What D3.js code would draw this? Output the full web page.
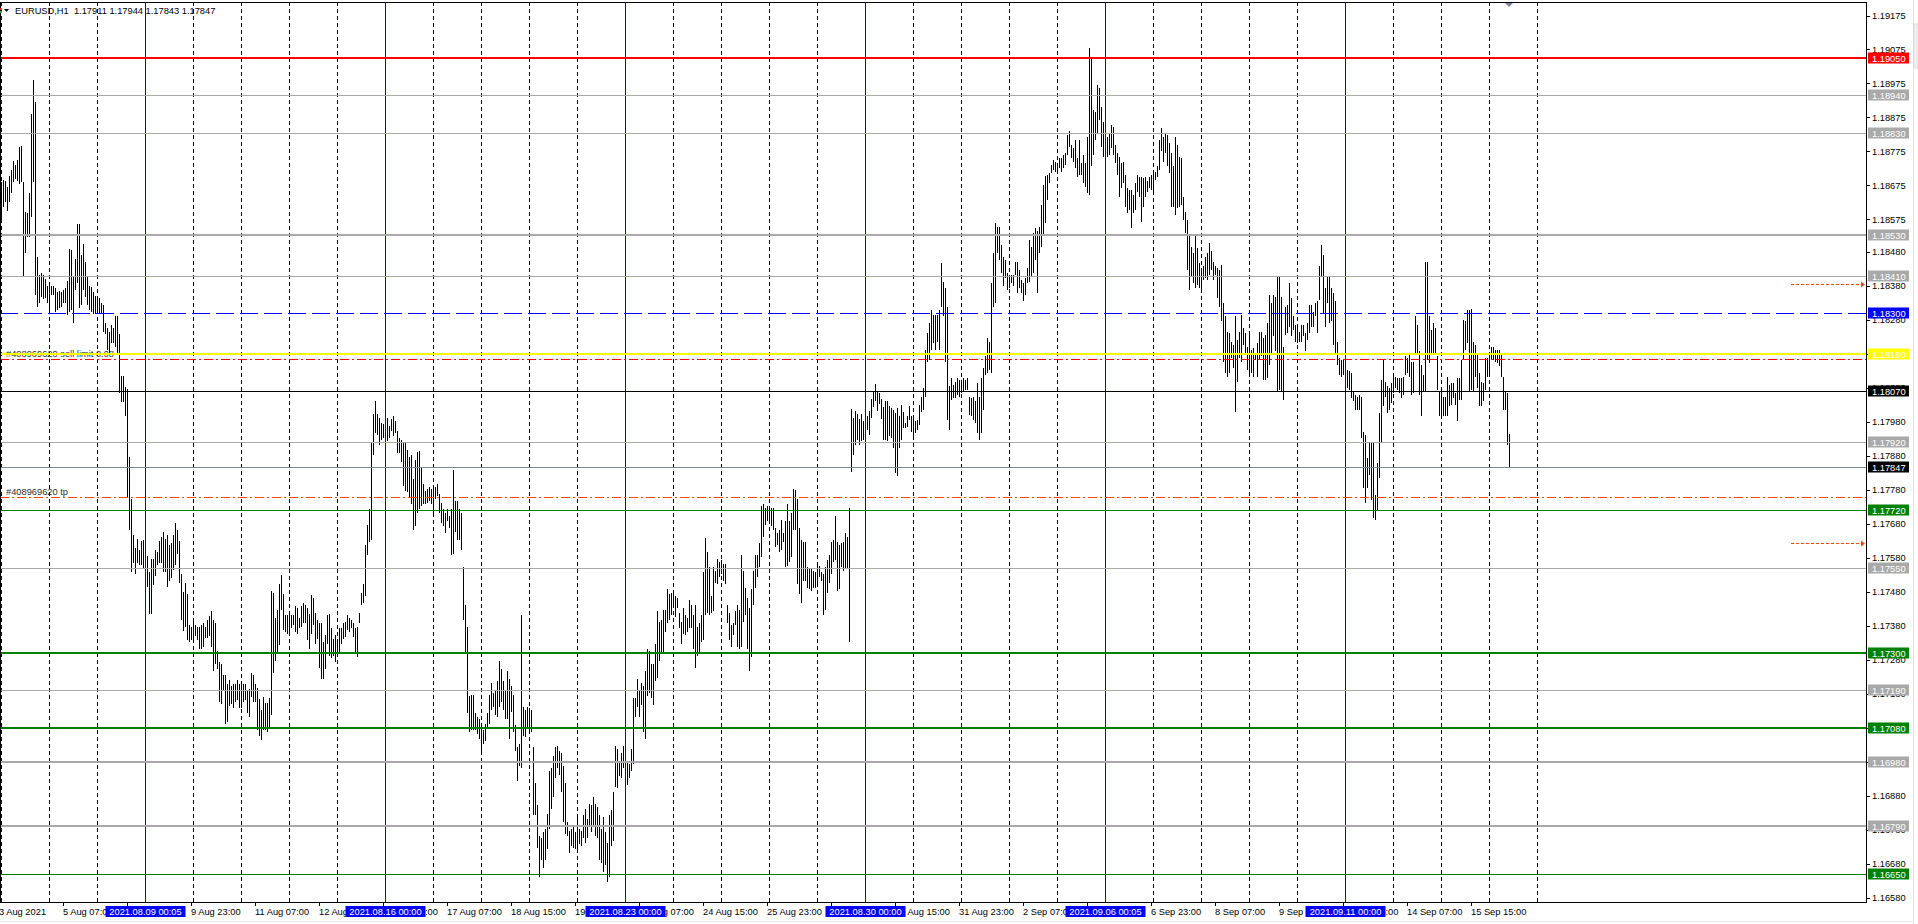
<!DOCTYPE html>
<html>
<head>
<meta charset="utf-8">
<script src="https://cdn.jsdelivr.net/npm/d3@7"></script>
<style>
  html, body { margin: 0; padding: 0; background: #fff; overflow: hidden; }
  svg { display: block; font-family: "Liberation Sans", Arial, sans-serif; font-size: 9.3px; }
</style>
</head>
<body>
<svg id="chart"></svg>
<script>
// EURUSD H1 bars, first bar = 4 Aug 2021 00:00
// values are points above 1.16000 (1 point = 0.00001)
const highs = [
  2685,2691,2688,2672,2704,2721,2747,2734,2749,2788,
  2791,2685,2596,2594,2652,2885,2986,2920,2464,2413,
  2419,2413,2400,2380,2387,2380,2380,2374,2363,2365,
  2361,2367,2374,2393,2488,2484,2406,2458,2561,2561,
  2471,2503,2451,2406,2380,2376,2361,2350,2348,2345,
  2328,2324,2270,2257,2244,2264,2257,2290,2290,2238,
  2115,2115,2082,2076,1875,1752,1648,1610,1636,1603,
  1629,1633,1597,1584,1538,1577,1577,1603,1597,1629,
  1642,1655,1636,1648,1616,1623,1648,1681,1661,1629,
  1532,1480,1506,1474,1383,1376,1402,1383,1376,1376,
  1383,1389,1376,1396,1409,1422,1396,1389,1305,1273,
  1266,1234,1234,1208,1221,1202,1208,1208,1221,1208,
  1208,1208,1208,1189,1195,1241,1234,1208,
  1197,1164,1132,1170,1154,1152,1167,1482,1477,1402,
  1427,1502,1529,1472,1412,1412,1412,1412,1412,1437,
  1432,1402,1437,1447,1442,1432,1414,1470,1462,1417,
  1397,1387,1387,1332,1352,1412,1414,1372,1342,1352,
  1342,1372,1372,1387,1392,1412,1402,1397,1387,1372,
  1377,1417,1477,1502,1617,1677,1722,1917,2002,2040,
  2002,1992,1977,1972,1997,1992,1967,1987,1997,1982,
  1954,1932,1927,1917,1917,1897,1877,1882,1812,1867,
  1892,1895,1847,1797,1777,1782,1787,1782,1787,1787,
  1797,1767,1742,1722,1712,1722,1702,1722,1837,1747,
  1747,1722,1712,1552,1442,1377,1172,1177,1177,1122,
  1112,1107,1087,1072,1092,1122,1177,1212,1182,1192,
  1217,1277,1252,1217,1192,1247,1222,1202,1177,1087,
  1022,1032,1412,1142,1132,1142,1137,1132,1022,917,
  852,762,757,772,782,827,952,962,997,1022,
  1027,1012,1007,967,917,802,777,782,787,
  772,822,782,777,822,842,812,857,852,877,
  857,847,822,782,817,772,742,822,837,892,
  1027,1017,982,1007,1027,982,977,972,1017,1167,
  1167,1222,1192,1212,1202,1247,1312,1307,1267,1267,
  1327,1422,1392,1397,1427,1427,1487,1472,1477,1472,
  1467,1462,1417,1392,1432,1412,1402,1457,1442,1412,
  1442,1377,1387,1412,1537,1637,1597,1552,1467,1552,
  1542,1577,1567,1572,1562,1562,1442,1417,1382,1387,
  1422,1442,1427,1587,1542,1492,1462,1432,1487,1542,
  1587,1587,1622,1732,1737,1727,1732,1722,1727,1727,
  1667,1652,1662,1692,1652,1687,1737,1687,1712,1782,
  1780,1752,1667,1632,1627,1627,1552,1547,
  1547,1542,1537,1562,1557,1537,1532,1552,1572,1587,
  1627,1632,1702,1627,1617,1622,1627,1652,1642,1727,
  2017,1992,2012,2002,1987,2002,1982,1992,1997,2012,
  2047,2067,2090,2067,2064,2047,2022,2042,2042,
  2025,
  2020,2015,2005,2020,1996,2030,2010,1976,1996,2025,
  1996,1996,1981,1986,2030,2054,2079,2192,2241,2270,
  2309,2294,2294,2294,2309,2446,2392,2373,2319,2084,
  2108,2089,2098,2108,2103,2103,2108,2103,2108,2054,
  2049,2054,2040,2094,2054,2108,2138,2172,2226,2216,
  2388,2476,2564,2554,2554,2500,2466,2456,2417,2407,
  2412,2412,2451,2451,2427,2397,2388,2402,2432,2515,
  2495,2535,2549,2540,2554,2618,2677,2703,2706,2711,
  2736,2750,2745,
  2740,2755,2755,2765,2770,2824,2834,2794,2785,2809,
  2755,2809,2740,2765,2740,2819,3079,3054,2897,2892,
  2971,2961,2907,2863,2878,2819,2829,2853,2848,2794,
  2770,2760,2740,2745,2706,2667,2662,2662,2647,2682,
  2706,2701,2701,2696,2701,2687,2701,2706,2711,2716,
  2731,2809,2843,2819,2829,2824,2799,2770,2731,2819,
  2794,2760,2755,2642,2598,2574,2525,2495,2476,2525,
  2490,2446,2427,2437,2466,2476,2505,2481,2451,2437,
  2432,2427,2441,2329,2290,2245,2241,2216,2206,2290,
  2221,2245,2294,2255,2241,2201,2245,2192,2196,2177,
  2211,2245,2245,2226,2236,2270,2353,2329,2353,2348,
  2407,2407,2348,2201,2319,2324,2388,2343,2290,2265,
  2260,2245,2265,2265,2241,2270,
  2324,2324,2304,2329,2334,2437,2500,2471,2373,2407,
  2407,2373,2358,2334,2216,2167,2162,2162,2167,2133,
  2128,2123,2069,2059,2054,2059,2054,1951,1942,1873,
  1917,1917,1917,1765,1858,2005,2103,2162,2098,2084,
  2079,2094,2118,2113,2108,2108,2108,2113,2172,2167,
  2177,2157,2157,2290,2265,2187,2147,2118,2451,2451,
  2290,2250,2270,2255,2172,2069,
  2069,2054,2054,2113,2089,2094,2094,2064,2108,2108,
  2162,2280,2275,2309,2309,2311,2216,2206,2182,2123,
  2098,2094,2167,2167,2182,2201,2201,2192,2192,2192,
  2182,2113,2069,2066,1944
];
const lows = [
  2570,2611,2626,2600,2626,2652,2685,2695,2687,2678,
  2685,2410,2477,2523,2523,2581,2685,2354,2318,2328,
  2348,2341,2345,2328,2302,2354,2354,2302,2309,2315,
  2319,2328,2328,2293,2302,2309,2270,2367,2387,2315,
  2322,2367,2348,2322,2309,2302,2296,2296,2296,2299,
  2296,2244,2238,2192,2179,2212,2212,2199,2179,2066,
  2037,2037,1998,1759,1661,1538,1564,1532,1564,1558,
  1558,1551,1564,1493,1415,1415,1500,1525,1558,1564,
  1564,1538,1538,1493,1512,1519,1545,1558,1590,1506,
  1396,1364,1376,1338,1331,1338,1338,1351,1338,1312,
  1312,1318,1344,1344,1351,1318,1247,1266,1253,1156,
  1150,1189,1092,1098,1143,1150,1137,1156,1163,1137,
  1137,1156,1163,1124,1111,1169,1156,1156,
  1072,1057,1044,1072,1074,1067,1082,1117,1242,1277,
  1297,1324,1427,1367,1362,1357,1352,1372,1382,1362,
  1357,1372,1377,1387,1387,1337,1312,1357,1382,1327,
  1342,1257,1222,1222,1254,1327,1292,1284,1292,1272,
  1287,1302,1327,1342,1347,1367,1362,1372,1347,1297,
  1287,1387,1442,1447,1467,1587,1627,1632,1882,1947,
  1942,1912,1927,1932,1904,1922,1932,1952,1937,1947,
  1887,1887,1862,1792,1777,1772,1757,1737,1662,1672,
  1712,1722,1732,1737,1737,1742,1747,1737,1707,1752,
  1762,1712,1682,1672,1652,1687,1667,1587,1592,1657,
  1632,1632,1602,1397,1302,1122,1067,1072,1072,1072,
  1062,1047,1002,1032,1042,1077,1092,1132,1142,1117,
  1112,1142,1157,1132,1107,1107,1047,1127,1067,1012,
  922,967,962,1057,1052,1082,1067,1067,822,822,
  727,642,692,667,692,722,782,842,877,932,
  962,942,892,802,767,762,712,732,727,
  722,712,737,732,757,742,757,792,772,792,
  762,757,692,682,657,677,627,642,732,747,
  907,902,937,932,962,942,912,932,952,972,
  1112,1142,1112,1147,1067,1047,1172,1182,1167,1147,
  1217,1227,1277,1297,1297,1362,1387,1397,1412,1432,
  1407,1432,1372,1327,1357,1352,1362,1372,1372,1312,
  1257,1292,1302,1332,1337,1412,1417,1412,1417,1422,
  1507,1502,1522,1532,1512,1502,1387,1337,1317,1352,
  1382,1317,1312,1317,1392,1412,1312,1247,1287,1442,
  1492,1522,1552,1582,1642,1677,1687,1682,1672,1662,
  1612,1617,1597,1602,1627,1552,1557,1567,1582,1662,
  1662,1502,1472,1447,1512,1512,1492,1487,
  1482,1492,1492,1502,1522,1512,1412,1427,1477,1507,
  1532,1567,1572,1482,1487,1552,1542,1547,1547,1332,
  1832,1882,1912,1927,1912,1922,1927,1942,1957,1942,
  1992,2022,2042,2012,2032,1987,1927,1927,1922,
  1937,
  1932,1902,1829,1819,1902,1927,1961,1961,1966,1986,
  1951,1937,1947,1956,1971,2010,2015,2054,2157,2162,
  2192,2211,2192,2216,2192,2319,2290,2157,1986,1956,
  2045,2049,2049,2059,2054,2064,2069,2074,2074,2000,
  1996,1986,1976,1947,1927,1947,2015,2118,2123,2133,
  2123,2319,2329,2476,2456,2417,2378,2402,2368,2373,
  2388,2378,2412,2358,2373,2358,2334,2353,2388,2392,
  2407,2417,2456,2358,2476,2495,2525,2564,2633,2682,
  2711,2721,2716,
  2716,2726,2716,2726,2736,2765,2789,2755,2745,2726,
  2701,2706,2706,2682,2672,2652,2647,2731,2765,2809,
  2829,2868,2789,2760,2740,2760,2765,2785,2765,2740,
  2706,2642,2667,2682,2613,2593,2603,2549,2593,2603,
  2657,2642,2569,2613,2642,2657,2667,2662,2657,2691,
  2701,2721,2775,2745,2770,2731,2711,2613,2613,2588,
  2608,2613,2618,2574,2535,2427,2368,2407,2388,2373,
  2383,2373,2363,2397,2402,2397,2412,2427,2397,2412,
  2343,2319,2275,2157,2123,2113,2123,2167,2138,2010,
  2098,2167,2157,2206,2182,2133,2113,2123,2113,2162,
  2113,2162,2172,2103,2103,2108,2147,2177,2231,2187,
  2069,2074,2069,2045,2236,2241,2260,2231,2250,2216,
  2211,2216,2216,2231,2187,2221,
  2241,2260,2260,2290,2241,2339,2407,2299,2260,2329,
  2270,2275,2206,2182,2147,2118,2113,2118,2113,2079,
  2074,2049,2040,2015,2015,2015,1932,1785,1741,1785,
  1824,1751,1697,1692,1721,1814,1917,2025,2054,2005,
  2015,2035,2064,2079,2074,2064,2049,2059,2118,2123,
  2113,2059,2064,2177,2177,2059,1996,2069,2069,2162,
  2152,2182,2177,2177,2074,1996,
  1991,1996,1996,1996,2025,2030,2049,2030,1981,2045,
  2045,2162,2192,2211,2069,2074,2069,2113,2079,2025,
  2025,2040,2074,2113,2113,2162,2162,2157,2152,2143,
  2113,2015,2015,1911,1843
];

const priceTicks = [1.19175, 1.19075, 1.18975, 1.18875, 1.18775, 1.18675, 1.18575,
  1.18480, 1.18380, 1.18280, 1.18180, 1.18080, 1.17980, 1.17880, 1.17780, 1.17680,
  1.17580, 1.17480, 1.17380, 1.17280, 1.17180, 1.17080, 1.16980, 1.16880, 1.16780,
  1.16680, 1.16580];

// horizontal levels: [price, kind]
const levels = [
  [1.19050, "red"], [1.18940, "gray"], [1.18830, "gray"], [1.18530, "grayThick"],
  [1.18410, "gray"], [1.18300, "blue"], [1.18180, "yellow"], [1.18070, "black"],
  [1.17920, "gray"], [1.17847, "bid"], [1.17720, "green"], [1.17550, "gray"],
  [1.17300, "greenThick"], [1.17190, "gray"], [1.17080, "greenThick"],
  [1.16980, "grayThick"], [1.16790, "grayThick"], [1.16650, "green"]
];

const orderPrices = [1.18165, 1.17758];
const orderTexts = ["#408969620 sell limit 0.08", "#408969620 tp"];
const arrowPrices = [1.18384, 1.17622];

const timeLabels = ["3 Aug 2021", "5 Aug 07:00", "6 Aug 15:00", "9 Aug 23:00",
  "11 Aug 07:00", "12 Aug 15:00", "13 Aug 23:00", "17 Aug 07:00", "18 Aug 15:00",
  "19 Aug 23:00", "23 Aug 07:00", "24 Aug 15:00", "25 Aug 23:00", "27 Aug 07:00",
  "30 Aug 15:00", "31 Aug 23:00", "2 Sep 07:00", "3 Sep 15:00", "6 Sep 23:00",
  "8 Sep 07:00", "9 Sep 15:00", "10 Sep 23:00", "14 Sep 07:00", "15 Sep 15:00"];

// vertical line objects (bar index of each) and their time tags
const markerBars = [72, 192, 312, 432, 552, 672];
const markerLabels = ["2021.08.09 00:05", "2021.08.16 00:00", "2021.08.23 00:00",
  "2021.08.30 00:00", "2021.09.06 00:05", "2021.09.11 00:00"];

const header = "EURUSD,H1  1.17911 1.17944 1.17843 1.17847";

const levelStyle = {
  red:        { stroke: "#ff0000", width: 2, dash: null, bg: "#ff0000", fg: "#fff" },
  gray:       { stroke: "#a9a9a9", width: 1, dash: null, bg: "#a9a9a9", fg: "#fff" },
  grayThick:  { stroke: "#a9a9a9", width: 2, dash: null, bg: "#a9a9a9", fg: "#fff" },
  blue:       { stroke: "#0000ff", width: 1, dash: "18,6", bg: "#0000ff", fg: "#fff" },
  yellow:     { stroke: "#ffff00", width: 2, dash: null, bg: "#ffff00", fg: "#fff" },
  black:      { stroke: "#000000", width: 1, dash: null, bg: "#000000", fg: "#fff" },
  bid:        { stroke: "#778899", width: 1, dash: null, bg: "#000000", fg: "#fff" },
  green:      { stroke: "#008000", width: 1, dash: null, bg: "#008000", fg: "#fff" },
  greenThick: { stroke: "#008000", width: 2, dash: null, bg: "#008000", fg: "#fff" }
};

const W = 1918, H = 924;
const plot = { left: 0, top: 2, right: 1866, bottom: 902 };
const tagW = 80;

const svg = d3.select("#chart").attr("width", W).attr("height", H);

const x = d3.scaleLinear().domain([0, 754]).range([1, 1509]);
const y = d3.scaleLinear().domain([1.16580, 1.19175]).range([897.7, 15.5]);

const bars = highs.map((h, i) => ({
  i,
  hi: 1.16 + Math.max(h, lows[i]) / 1e5,
  lo: 1.16 + Math.min(h, lows[i]) / 1e5
}));

svg.append("defs").append("clipPath").attr("id", "plotClip")
  .append("rect")
  .attr("x", plot.left).attr("y", plot.top)
  .attr("width", plot.right - plot.left).attr("height", plot.bottom - plot.top);

// window chrome on the right/bottom
svg.append("line").attr("x1", 1913.5).attr("x2", 1913.5).attr("y1", 0).attr("y2", H)
  .attr("stroke", "#e3e3e3");
svg.append("rect").attr("x", 1914).attr("y", 24).attr("width", 4).attr("height", 44)
  .attr("fill", "#f0f0f0").attr("stroke", "#dcdcdc");
svg.append("line").attr("x1", 0).attr("x2", 1913).attr("y1", 921.5).attr("y2", 921.5)
  .attr("stroke", "#e6e6e6");

const chart = svg.append("g").attr("clip-path", "url(#plotClip)");

// dotted day grid
chart.append("g")
  .selectAll("line")
  .data(d3.range(0, 769, 24))
  .join("line")
  .attr("x1", d => Math.round(x(d)) + 0.5)
  .attr("x2", d => Math.round(x(d)) + 0.5)
  .attr("y1", plot.top).attr("y2", plot.bottom)
  .attr("stroke", "#000")
  .attr("stroke-dasharray", "4,3")
  .attr("shape-rendering", "crispEdges");

// order labels (sit under the level lines)
chart.append("g")
  .selectAll("text")
  .data(orderPrices)
  .join("text")
  .attr("x", 6)
  .attr("y", d => y(d) - 2)
  .attr("fill", "#2e2e2e")
  .text((d, i) => orderTexts[i]);

// H1 bars
chart.append("g")
  .selectAll("line")
  .data(bars)
  .join("line")
  .attr("x1", d => Math.round(x(d.i)) + 0.5)
  .attr("x2", d => Math.round(x(d.i)) + 0.5)
  .attr("y1", d => y(d.hi))
  .attr("y2", d => Math.max(y(d.lo), y(d.hi) + 1))
  .attr("stroke", "#000")
  .attr("stroke-width", 1)
  .attr("shape-rendering", "crispEdges");

// vertical line objects
chart.append("g")
  .selectAll("line")
  .data(markerBars)
  .join("line")
  .attr("x1", d => Math.round(x(d)) + 0.5)
  .attr("x2", d => Math.round(x(d)) + 0.5)
  .attr("y1", plot.top).attr("y2", plot.bottom)
  .attr("stroke", "#0000ff")
  .attr("shape-rendering", "crispEdges");

// pending order / tp lines
chart.append("g")
  .selectAll("line")
  .data(orderPrices)
  .join("line")
  .attr("x1", plot.left).attr("x2", plot.right)
  .attr("y1", d => Math.round(y(d)) + 0.5)
  .attr("y2", d => Math.round(y(d)) + 0.5)
  .attr("stroke", (d, i) => i === 0 ? "#ff0000" : "#ff4500")
  .attr("stroke-dasharray", "9,3,2,3")
  .attr("shape-rendering", "crispEdges");

// horizontal levels
const levelY = d => {
  const st = levelStyle[d[1]];
  const yy = Math.round(y(d[0]));
  return st.width % 2 === 1 ? yy + 0.5 : yy;
};
chart.append("g")
  .selectAll("line")
  .data(levels)
  .join("line")
  .attr("x1", plot.left).attr("x2", plot.right)
  .attr("y1", levelY).attr("y2", levelY)
  .attr("stroke", d => levelStyle[d[1]].stroke)
  .attr("stroke-width", d => levelStyle[d[1]].width)
  .attr("stroke-dasharray", d => levelStyle[d[1]].dash)
  .attr("shape-rendering", "crispEdges");

// order arrows near the price scale
const arrows = chart.append("g").selectAll("g").data(arrowPrices).join("g");
arrows.append("line")
  .attr("x1", 1791).attr("x2", 1862)
  .attr("y1", d => Math.round(y(d)) + 0.5).attr("y2", d => Math.round(y(d)) + 0.5)
  .attr("stroke", "#ff4500")
  .attr("stroke-dasharray", "3,2");
arrows.append("path")
  .attr("d", d => {
    const yy = Math.round(y(d)) + 0.5;
    return `M1861,${yy - 3}L1865,${yy}L1861,${yy + 3}Z`;
  })
  .attr("fill", "#ff4500");

// chart shift marker
svg.append("path")
  .attr("d", `M${x(754) - 4},3L${x(754) + 4},3L${x(754)},7Z`)
  .attr("fill", "#7b8898");

// frame
svg.append("rect")
  .attr("x", 0.5).attr("y", plot.top + 0.5)
  .attr("width", plot.right - 0.5).attr("height", plot.bottom - plot.top)
  .attr("fill", "none").attr("stroke", "#000")
  .attr("shape-rendering", "crispEdges");

// price scale
const yAxisG = svg.append("g");
yAxisG.selectAll("line")
  .data(priceTicks)
  .join("line")
  .attr("x1", plot.right).attr("x2", plot.right + 4)
  .attr("y1", d => Math.round(y(d)) + 0.5).attr("y2", d => Math.round(y(d)) + 0.5)
  .attr("stroke", "#000")
  .attr("shape-rendering", "crispEdges");
yAxisG.selectAll("text")
  .data(priceTicks)
  .join("text")
  .attr("x", plot.right + 6)
  .attr("y", d => y(d) + 3.4)
  .attr("fill", "#000")
  .text(d => d.toFixed(5));

// level tags on the price scale
const tags = svg.append("g").selectAll("g").data(levels).join("g")
  .attr("transform", d => `translate(${plot.right + 2},${Math.round(y(d[0]))})`);
tags.append("rect")
  .attr("x", 0).attr("y", -5.5).attr("width", 41).attr("height", 11)
  .attr("fill", d => levelStyle[d[1]].bg);
tags.append("text")
  .attr("x", 4).attr("y", 3.5)
  .attr("fill", d => levelStyle[d[1]].fg)
  .text(d => d[0].toFixed(5));

// time scale
const tAxis = svg.append("g");
const labelX = (d, n) => Math.round(x(32 * n - 1));
tAxis.selectAll("line")
  .data(timeLabels)
  .join("line")
  .attr("x1", (d, n) => labelX(d, n) + 0.5).attr("x2", (d, n) => labelX(d, n) + 0.5)
  .attr("y1", plot.bottom).attr("y2", plot.bottom + 4)
  .attr("stroke", "#000")
  .attr("shape-rendering", "crispEdges");
const tText = tAxis.selectAll("text")
  .data(timeLabels)
  .join("text")
  .attr("x", (d, n) => labelX(d, n))
  .attr("y", 914.7)
  .attr("fill", "#000")
  .text(d => d);

// labels that end up completely under a time tag are not visible in MT4 either
const tagSpans = markerBars.map(b => [Math.round(x(b)) + 0.5 - tagW / 2, Math.round(x(b)) + 0.5 + tagW / 2]);
tText.each(function () {
  const x0 = +this.getAttribute("x");
  const x1 = x0 + this.getComputedTextLength();
  if (tagSpans.some(s => x0 >= s[0] && x1 <= s[1])) d3.select(this).remove();
});

// time tags of vertical line objects
const vtags = svg.append("g").selectAll("g").data(markerBars).join("g")
  .attr("transform", d => `translate(${Math.round(x(d)) + 0.5},0)`);
vtags.append("rect")
  .attr("x", -tagW / 2).attr("y", 906).attr("width", tagW).attr("height", 11)
  .attr("fill", "#0000ff");
vtags.append("text")
  .attr("x", 0).attr("y", 915)
  .attr("text-anchor", "middle")
  .attr("fill", "#fff")
  .text((d, i) => markerLabels[i]);

// header
svg.append("path").attr("d", "M4,9L9,9L6.5,12Z").attr("fill", "#000");
svg.append("rect").attr("x", 0).attr("y", 8).attr("width", 2).attr("height", 2).attr("fill", "#d04020");
svg.append("rect").attr("x", 0).attr("y", 11).attr("width", 2).attr("height", 2).attr("fill", "#40a040");
svg.append("text")
  .attr("x", 15).attr("y", 14)
  .attr("fill", "#000")
  .attr("xml:space", "preserve")
  .style("white-space", "pre")
  .text(header);
</script>
</body>
</html>
